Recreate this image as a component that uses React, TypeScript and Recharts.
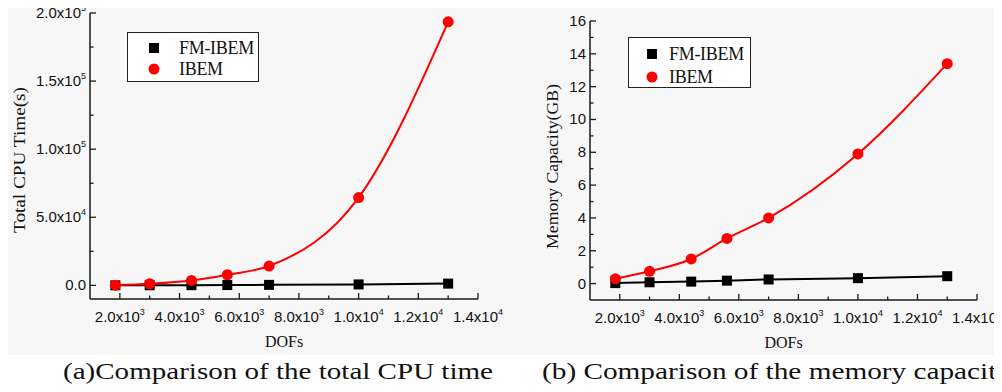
import { LineChart, Line, XAxis, YAxis, Legend, Label } from "recharts";

// DOFs sampled in both experiments
const dofs = [1850, 3000, 4400, 5600, 7000, 10000, 13000];

// (a) total CPU time in seconds
const cpuFmIbem = [40, 90, 160, 250, 380, 700, 1300];
const cpuIbem = [150, 1200, 3600, 7800, 14200, 64500, 193500];

// (b) memory capacity in GB
const memFmIbem = [0.03, 0.08, 0.12, 0.18, 0.25, 0.33, 0.45];
const memIbem = [0.3, 0.75, 1.5, 2.75, 4.0, 7.9, 13.4];

const seriesNames = ["FM-IBEM", "IBEM"];

// axis ticks
const xTicks = [2000, 3000, 4000, 5000, 6000, 7000, 8000, 9000, 10000, 11000, 12000, 13000, 14000];
const xMajor = [2000, 4000, 6000, 8000, 10000, 12000, 14000];
const xMajorText = ["2.0x10", "4.0x10", "6.0x10", "8.0x10", "1.0x10", "1.2x10", "1.4x10"];
const xMajorExp = ["3", "3", "3", "3", "4", "4", "4"];

const cpuTicks = [0, 25000, 50000, 75000, 100000, 125000, 150000, 175000, 200000];
const cpuMajor = [0, 50000, 100000, 150000, 200000];
const cpuMajorText = ["0.0", "5.0x10", "1.0x10", "1.5x10", "2.0x10"];
const cpuMajorExp = ["", "4", "5", "5", "5"];

const memTicks = [0, 1, 2, 3, 4, 5, 6, 7, 8, 9, 10, 11, 12, 13, 14, 15, 16];
const memMajor = [0, 2, 4, 6, 8, 10, 12, 14, 16];
const memMajorText = ["0", "2", "4", "6", "8", "10", "12", "14", "16"];

const cpuData = dofs.map((d, i) => ({ dofs: d, fm: cpuFmIbem[i], ibem: cpuIbem[i] }));
const memData = dofs.map((d, i) => ({ dofs: d, fm: memFmIbem[i], ibem: memIbem[i] }));

const AXIS = "#1a1a1a";
const RED = "#ff0000";
const SANS = "'Liberation Sans', Arial, sans-serif";
const SERIF = "'Liberation Serif', 'Times New Roman', serif";

type Side = "bottom" | "top" | "left" | "right";

const makeTick =
  (side: Side, major: number[], text?: string[], exp?: string[]) => (props: any) => {
    const { x, y, payload } = props;
    const i = major.indexOf(payload.value);
    const len = i >= 0 ? 6 : 3.5;
    let line;
    if (side === "bottom") line = <line x1={x} x2={x} y1={y} y2={y - len} />;
    else if (side === "top") line = <line x1={x} x2={x} y1={y} y2={y + len} />;
    else if (side === "left") line = <line x1={x} x2={x + len} y1={y} y2={y} />;
    else line = <line x1={x} x2={x - len} y1={y} y2={y} />;

    let label = null;
    if (text && i >= 0) {
      const e = exp ? exp[i] : "";
      if (side === "bottom") {
        label = (
          <text x={x} y={y + 23} textAnchor="middle" fontFamily={SANS} fontSize={15} fill="#111">
            {text[i]}
            {e && <tspan dy={-7} fontSize={9}>{e}</tspan>}
          </text>
        );
      } else if (side === "left") {
        label = (
          <text x={x - 4} y={y + 5} textAnchor="end" fontFamily={SANS} fontSize={15} fill="#111">
            {text[i]}
            {e && <tspan dy={-7} fontSize={9}>{e}</tspan>}
          </text>
        );
      }
    }
    return (
      <g>
        <g stroke={AXIS} strokeWidth={1.3}>{line}</g>
        {label}
      </g>
    );
  };

const squareDot = (props: any) => {
  const { cx, cy, index } = props;
  return <rect key={`s${index}`} x={cx - 5} y={cy - 5} width={10} height={10} fill="#000" />;
};

const circleDot = (props: any) => {
  const { cx, cy, index } = props;
  return <circle key={`c${index}`} cx={cx} cy={cy} r={5.5} fill={RED} />;
};

const makeLegend = (mx: number, tx: number, rows: number[]) => (props: any) => {
  const { payload } = props;
  return (
    <div
      style={{
        position: "relative",
        width: "100%",
        height: "100%",
        boxSizing: "border-box",
        border: "1px solid #222",
        background: "#fff",
      }}
    >
      <svg width="100%" height="100%" style={{ position: "absolute", left: 0, top: 0 }}>
        {(payload || []).map((p: any, i: number) => (
          <g key={p.value}>
            {p.type === "square" ? (
              <rect x={mx - 5} y={rows[i] - 5} width={10} height={10} fill="#000" />
            ) : (
              <circle cx={mx} cy={rows[i]} r={5.5} fill={RED} />
            )}
            <text
              x={tx}
              y={rows[i] + 6}
              fontFamily={SERIF}
              fontSize={18}
              letterSpacing={-0.3}
              fill="#111"
            >
              {p.value}
            </text>
          </g>
        ))}
      </svg>
    </div>
  );
};

const xTitle = (text: string) => (props: any) => {
  const { viewBox } = props;
  return (
    <text
      x={viewBox.x + viewBox.width / 2}
      y={viewBox.y + 48}
      textAnchor="middle"
      fontFamily={SERIF}
      fontSize={16}
      fill="#111"
    >
      {text}
    </text>
  );
};

const yTitle = (text: string, cx: number, dy: number, len: number) => (props: any) => {
  const { viewBox } = props;
  const cy = viewBox.y + viewBox.height / 2 + dy;
  return (
    <text
      x={cx}
      y={cy}
      transform={`rotate(-90 ${cx} ${cy})`}
      textAnchor="middle"
      dominantBaseline="central"
      fontFamily={SERIF}
      fontSize={17}
      textLength={len}
      lengthAdjust="spacingAndGlyphs"
      fill="#111"
    >
      {text}
    </text>
  );
};

interface PanelProps {
  data: { dofs: number; fm: number; ibem: number }[];
  yDomain: number[];
  yTicks: number[];
  yMajor: number[];
  yText: string[];
  yExp?: string[];
  yLabel: string;
  yLabelX: number;
  yLabelDy: number;
  yLabelLen: number;
  top: number;
  right: number;
  xHeight: number;
  legendBox: { left: number; top: number; width: number; height: number };
  legendMx: number;
  legendTx: number;
  legendRows: number[];
}

const Panel = (p: PanelProps) => (
  <LineChart
    width={530}
    height={360}
    data={p.data}
    margin={{ top: p.top, right: p.right + 30, bottom: 0, left: 0 }}
  >
    <XAxis
      dataKey="dofs"
      type="number"
      domain={[1000, 14000]}
      ticks={xTicks}
      interval={0}
      height={p.xHeight}
      tickSize={0}
      tickMargin={0}
      tickLine={false}
      axisLine={{ stroke: AXIS, strokeWidth: 1.5 }}
      tick={makeTick("bottom", xMajor, xMajorText, xMajorExp)}
    >
      <Label content={xTitle("DOFs")} />
    </XAxis>
    <XAxis
      xAxisId="top"
      orientation="top"
      dataKey="dofs"
      type="number"
      domain={[1000, 14000]}
      ticks={xTicks}
      interval={0}
      height={0}
      tickSize={0}
      tickMargin={0}
      tickLine={false}
      axisLine={{ stroke: AXIS, strokeWidth: 1.5 }}
      tick={makeTick("top", xMajor)}
    />
    <YAxis
      type="number"
      domain={p.yDomain}
      ticks={p.yTicks}
      interval={0}
      width={90}
      tickSize={0}
      tickMargin={0}
      tickLine={false}
      axisLine={{ stroke: AXIS, strokeWidth: 1.5 }}
      tick={makeTick("left", p.yMajor, p.yText, p.yExp)}
    >
      <Label content={yTitle(p.yLabel, p.yLabelX, p.yLabelDy, p.yLabelLen)} />
    </YAxis>
    <YAxis
      yAxisId="right"
      orientation="right"
      type="number"
      domain={p.yDomain}
      ticks={p.yTicks}
      interval={0}
      width={0}
      tickSize={0}
      tickMargin={0}
      tickLine={false}
      axisLine={{ stroke: AXIS, strokeWidth: 1.5 }}
      tick={makeTick("right", p.yMajor)}
    />
    <Legend
      layout="vertical"
      align="center"
      verticalAlign="middle"
      wrapperStyle={{ ...p.legendBox }}
      content={makeLegend(p.legendMx, p.legendTx, p.legendRows)}
    />
    <Line
      name={seriesNames[0]}
      dataKey="fm"
      type="linear"
      stroke="#000"
      strokeWidth={2}
      dot={squareDot}
      activeDot={false}
      legendType="square"
      isAnimationActive={false}
    />
    <Line
      name={seriesNames[1]}
      dataKey="ibem"
      type="monotone"
      stroke={RED}
      strokeWidth={2}
      dot={circleDot}
      activeDot={false}
      legendType="circle"
      isAnimationActive={false}
    />
  </LineChart>
);

export default function App() {
  return (
    <div style={{ position: "relative", width: 1002, height: 392, background: "#fff", overflow: "hidden", margin: -8 }}>
      <div style={{ position: "absolute", left: 7, top: 5, width: 995, height: 350, background: "#f7f7f7" }} />
      <div style={{ position: "absolute", left: 500, top: 0 }}>
        <Panel
          data={memData}
          yDomain={[-1, 16]}
          yTicks={memTicks}
          yMajor={memMajor}
          yText={memMajorText}
          yLabel="Memory Capacity(GB)"
          yLabelX={52}
          yLabelDy={6}
          yLabelLen={165}
          top={21}
          right={23}
          xHeight={60}
          legendBox={{ left: 128, top: 37, width: 123, height: 51 }}
          legendMx={23}
          legendTx={40}
          legendRows={[16, 39]}
        />
      </div>
      <div style={{ position: "absolute", left: 0, top: 0 }}>
        <Panel
          data={cpuData}
          yDomain={[-10000, 200000]}
          yTicks={cpuTicks}
          yMajor={cpuMajor}
          yText={cpuMajorText}
          yExp={cpuMajorExp}
          yLabel="Total CPU Time(s)"
          yLabelX={19}
          yLabelDy={4}
          yLabelLen={146}
          top={13}
          right={22}
          xHeight={61}
          legendBox={{ left: 127, top: 32, width: 132, height: 50 }}
          legendMx={26}
          legendTx={51}
          legendRows={[15, 36]}
        />
      </div>
      <svg width={1002} height={392} style={{ position: "absolute", left: 0, top: 0, pointerEvents: "none" }}>
        <text x={63} y={379} fontFamily={SERIF} fontSize={24} textLength={430} lengthAdjust="spacingAndGlyphs" fill="#111">
          (a)Comparison of the total CPU time
        </text>
        <text x={542} y={379} fontFamily={SERIF} fontSize={24} textLength={469} lengthAdjust="spacingAndGlyphs" fill="#111">
          (b) Comparison of the memory capacity
        </text>
      </svg>
    </div>
  );
}
